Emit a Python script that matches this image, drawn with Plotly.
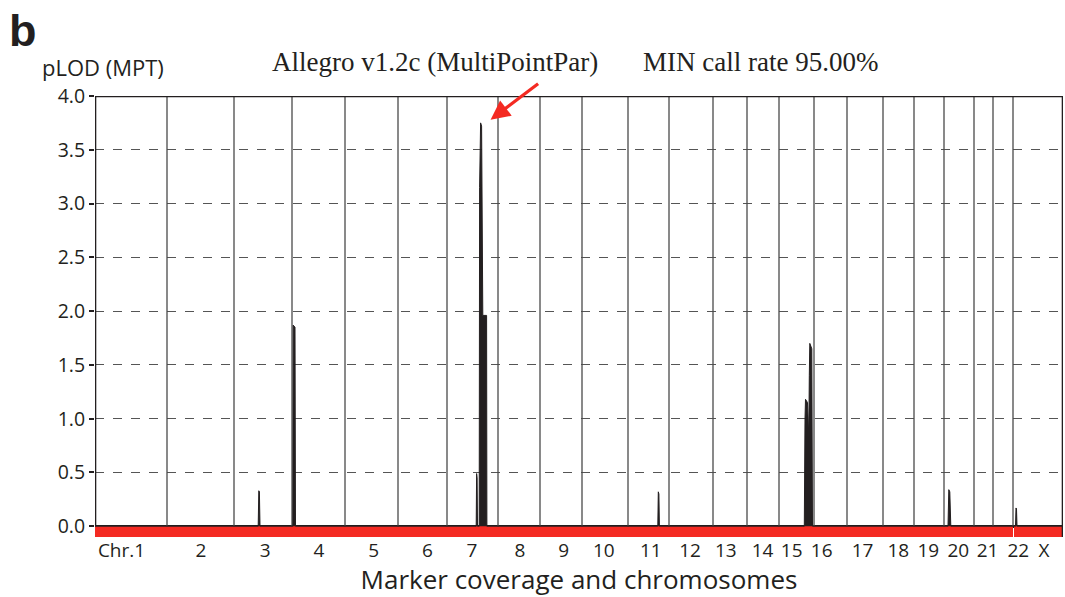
import plotly.graph_objects as go

# ---------------- data ----------------
chrom_names = ["1", "2", "3", "4", "5", "6", "7", "8", "9", "10", "11", "12",
               "13", "14", "15", "16", "17", "18", "19", "20", "21", "22", "X"]
chrom_len = [72, 67, 58, 53, 53, 49, 51, 42, 42, 46, 41, 44,
             34, 32, 35, 33, 36, 31, 30, 30, 19, 20, 50]
tick_text = ["Chr.1"] + chrom_names[1:]
tick_pos = [26.5, 106, 170.3, 224, 278.8, 332.5, 377, 425, 468.8, 508.8, 555.8, 595,
            630.8, 667.5, 696.7, 726.7, 767.5, 803.3, 833.3, 863.3, 892.5, 923.3, 949]

# genome position (cumulative marker coordinate) and pLOD
pos = [0,
       163.2, 163.8, 164.4, 165.0,
       197.8, 198.2, 200.0, 200.5,
       381.2, 381.6, 382.1, 382.5,
       384.2, 384.6, 385.6, 386.6, 387.8, 391.6, 391.9,
       562.8, 563.3, 563.9, 564.4,
       709.3, 710.0, 710.5, 712.5, 713.8, 714.3, 714.8, 716.8, 717.5,
       853.0, 853.8, 854.8, 855.8,
       920.5, 921.0, 921.5, 922.0,
       968]
lod = [0,
       0, 0.33, 0.32, 0,
       0, 1.87, 1.85, 0,
       0, 0.49, 0.45, 0,
       0, 3.15, 3.75, 3.72, 1.96, 1.96, 0,
       0, 0.32, 0.30, 0,
       0, 1.00, 1.18, 1.15, 0.83, 1.40, 1.70, 1.65, 0,
       0, 0.34, 0.32, 0,
       0, 0.17, 0.16, 0,
       0]

# marker coverage: uncovered stretch at the start of each chromosome
coverage_gap = [0] * 22 + [1.0]

# ---------------- derived ----------------
bounds = [0]
for L in chrom_len:
    bounds.append(bounds[-1] + L)
total = bounds[-1]

RED = "#f42a22"
INK = "#231f20"
FONT = "Open Sans"

fig = go.Figure()

# coverage bar (red)
cov_start = [bounds[i] + coverage_gap[i] for i in range(len(chrom_len))]
cov_w = [chrom_len[i] - coverage_gap[i] for i in range(len(chrom_len))]
fig.add_trace(go.Bar(
    x=[s + w / 2 for s, w in zip(cov_start, cov_w)], y=[0.1] * len(cov_w), base=-0.1,
    width=cov_w, marker=dict(color=RED, line=dict(width=0)), hoverinfo="skip",
    showlegend=False))

# chromosome boundary lines
vx, vy = [], []
for b in bounds[1:-1]:
    vx += [b, b, None]
    vy += [0, 4, None]
fig.add_trace(go.Scatter(x=vx, y=vy, mode="lines",
                         line=dict(color="#4a4a4a", width=1.3),
                         hoverinfo="skip", showlegend=False))

# pLOD curve
fig.add_trace(go.Scatter(x=pos, y=lod, mode="lines", fill="tozeroy",
                         fillcolor=INK, line=dict(color=INK, width=1),
                         hoverinfo="skip", showlegend=False))

# frame: left edge, top, right edge
fig.add_trace(go.Scatter(x=[0, 0, total, total], y=[0, 4, 4, -0.1], mode="lines",
                         line=dict(color=INK, width=2.6), cliponaxis=False,
                         hoverinfo="skip", showlegend=False))

imax = max(range(len(lod)), key=lambda i: lod[i])

fig.update_layout(
    width=1065, height=597,
    margin=dict(l=95, r=2, t=96, b=60),
    paper_bgcolor="white", plot_bgcolor="white",
    bargap=0,
    font=dict(family=FONT, color=INK, size=19),
    xaxis=dict(range=[0, total], showgrid=False, zeroline=False, showline=False,
               tickmode="array", tickvals=tick_pos, ticktext=tick_text,
               ticks="",
               tickfont=dict(size=19, family=FONT, color=INK),
               title=dict(text="Marker coverage and chromosomes",
                          font=dict(size=26, family=FONT, color=INK), standoff=4)),
    yaxis=dict(range=[-0.1, 4.0], tick0=0, dtick=0.5, tickformat=".1f",
               showgrid=True, gridcolor="#555555", griddash="dash", gridwidth=1,
               zeroline=True, zerolinecolor=INK, zerolinewidth=2.6,
               showline=False, ticks="outside", ticklen=5, tickcolor=INK,
               tickwidth=1.5, tickfont=dict(size=19.5, family=FONT, color=INK)),
    annotations=[
        dict(text="<b>b</b>", xref="paper", yref="paper",
             x=-88 / 968, y=1 + 66 / 441, xanchor="left", yanchor="middle",
             showarrow=False, font=dict(family="Liberation Sans", size=45, color=INK)),
        dict(text="pLOD (MPT)", xref="paper", yref="paper",
             x=-55 / 968, y=1 + 29 / 441, xanchor="left", yanchor="middle",
             showarrow=False, font=dict(family=FONT, size=22, color=INK)),
        dict(text="Allegro v1.2c (MultiPointPar)", xref="paper", yref="paper",
             x=(434.5 - 95) / 968, y=1 + 34 / 441, xanchor="center", yanchor="middle",
             showarrow=False, font=dict(family="Liberation Serif", size=27, color=INK)),
        dict(text="MIN call rate 95.00%", xref="paper", yref="paper",
             x=(760 - 95) / 968, y=1 + 34 / 441, xanchor="center", yanchor="middle",
             showarrow=False, font=dict(family="Liberation Serif", size=27, color=INK)),
        dict(text="", x=pos[imax] + 10, y=lod[imax] + 0.03, xref="x", yref="y",
             showarrow=True, arrowhead=2, arrowsize=1.2, arrowwidth=3.2,
             arrowcolor=RED, ax=49, ay=-37),
    ],
)

fig.write_html("out.html")
